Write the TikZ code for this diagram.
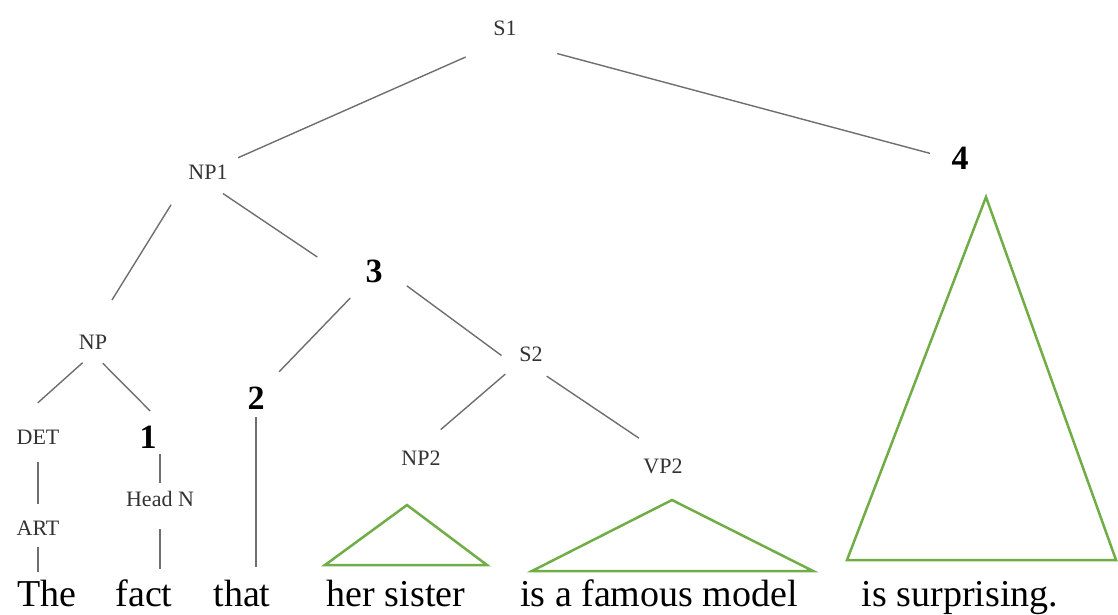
\documentclass[tikz,border=0pt]{standalone}
\usepackage{fontspec}
\setmainfont{Liberation Serif}
\usepackage{tikz}

\begin{document}
\begin{tikzpicture}[x=1pt, y=-1pt,
label/.style={font=\fontsize{22}{26}\selectfont, text=labelgray, inner sep=4pt},
num/.style={font=\fontsize{34}{40}\selectfont\bfseries, inner sep=4pt},
word/.style={font=\fontsize{38}{44}\selectfont, anchor=base, inner sep=4pt},
branch/.style={draw=linegray, line width=1.4pt},
tri/.style={draw=trigreen, line width=2.5pt} ]

% Define colors
\definecolor{linegray}{RGB}{110,110,110}
\definecolor{labelgray}{RGB}{50,50,50}
\definecolor{trigreen}{RGB}{112,173,71}

\useasboundingbox (0,0) rectangle (1118,615);

% Nodes
\node[label] (s1) at (505,28) {S1};
\node[label] (np1) at (208,172) {NP1};
\node[num] (four) at (960,158) {4};
\node[num] (three) at (374,271) {3};
\node[label] (np) at (93,342) {NP};
\node[num] (two) at (256,398) {2};
\node[label] (stwo) at (531,354) {S2};
\node[label] (det) at (38,437) {DET};
\node[num] (one) at (148,437) {1};
\node[label] (art) at (38,528) {ART};
\node[label] (headn) at (160,499) {Head N};
\node[label] (nptwo) at (421,458) {NP2};
\node[label] (vptwo) at (663,466) {VP2};

% Words
\node[word] (the) at (47,606) {The};
\node[word] (fact) at (144,606) {fact};
\node[word] (that) at (242,606) {that};
\node[word] (hersister) at (396,606) {her sister};
\node[word] (famousmodel) at (659,606) {is a famous model};
\node[word] (surprising) at (960,606) {is surprising.};

% Branches
\draw[branch, shorten <=43pt, shorten >=7pt] (s1.south) -- (np1.north east);
\draw[branch, shorten <=54pt, shorten >=18pt] (s1.south) -- (four.west);
\draw[branch, shorten <=25pt, shorten >=36pt] (np1.south west) -- (np.north);
\draw[branch, shorten <=18pt, shorten >=53pt] (np1.south) -- (three.south west);
\draw[branch, shorten <=16pt, shorten >=15pt] (three.south west) -- (two.north east);
\draw[branch, shorten <=25pt, shorten >=17pt] (three.east) -- (stwo.south west);
\draw[branch, shorten <=13pt, shorten >=26pt] (stwo.south west) -- (nptwo.north);
\draw[branch, shorten <=19pt, shorten >=29pt] (stwo.south) -- (vptwo.north);
\draw[branch, shorten <=14pt, shorten >=34pt] (np.south) -- (det.north west);
\draw[branch, shorten <=14pt, shorten >=15pt] (np.south) -- (one.north east);
\draw[branch, shorten <=14pt, shorten >=13pt] (det.south) -- (art.north);
\draw[branch, shorten <=8pt, shorten >=3pt] (art.south) -- (art.south |- the.north);
\draw[branch, shorten <=2pt, shorten >=4pt] (one.south -| headn) -- (headn.north);
\draw[branch, shorten <=18pt, shorten >=6pt] (headn.south) -- (headn.south |- fact.north);
\draw[branch, shorten <=4pt, shorten >=8pt] (two.south) -- (two.south |- that.north);

% Triangles
\draw[tri] (407,505) -- (487,565) -- (325,565) -- cycle;
\draw[tri] (672,500) -- (813,571) -- (532,571) -- cycle;
\draw[tri] (986,197) -- (1116,560) -- (847,560) -- cycle;

\end{tikzpicture}
\end{document}
